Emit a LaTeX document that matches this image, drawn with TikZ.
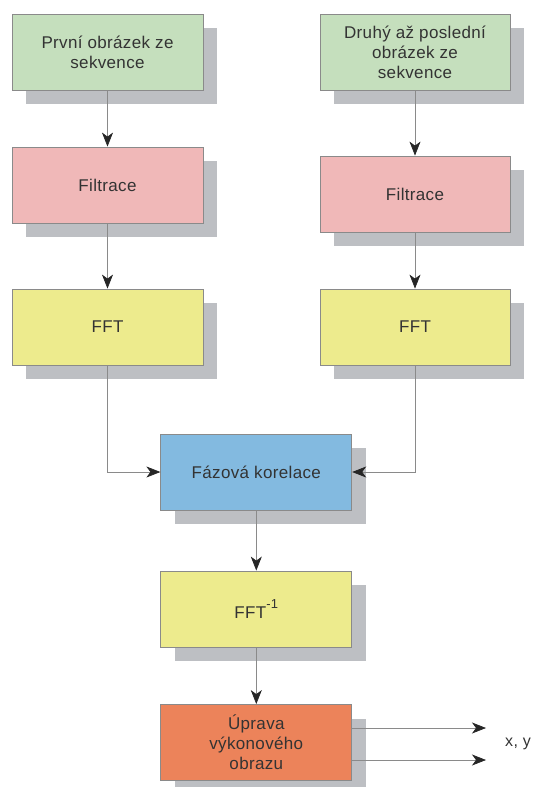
\documentclass[tikz,border=0pt]{standalone}
\usepackage{fontspec}
\setmainfont[LetterSpace=2]{Liberation Sans}
\usetikzlibrary{positioning,shadows,arrows.meta}

\definecolor{greenbox}{HTML}{C5DFBD}
\definecolor{pinkbox}{HTML}{F0B8B8}
\definecolor{yellowbox}{HTML}{EDEB8D}
\definecolor{bluebox}{HTML}{83BAE0}
\definecolor{orangebox}{HTML}{EC835A}
\definecolor{shadowgray}{HTML}{BDBFC3}
\definecolor{edgegray}{HTML}{8A8A8A}
\definecolor{textgray}{HTML}{333333}

\tikzset{
    block/.style={rectangle, draw=edgegray, line width=0.8pt, minimum width=191pt, minimum height=76pt,
        inner sep=2pt, align=center, text=textgray, font=\fontsize{17}{20}\selectfont,
        general shadow={shadow xshift=14pt, shadow yshift=-14pt, fill=shadowgray, draw=none}},
    arr/.style={draw=edgegray, line width=0.7pt, -{Stealth[length=14pt, width=11pt, inset=4pt, color=black!85, fill=black!85]}}
}

\begin{document}
\begin{tikzpicture}[x=1pt, y=-1pt]
\useasboundingbox (0,0) rectangle (533,787);

% ===== Left column =====
\node[block, fill=greenbox]  (prvni) at (107.5,52) {První obrázek ze\\sekvence};
\node[block, fill=pinkbox]   (filtA) at (107.5,185) {Filtrace};
\node[block, fill=yellowbox] (fftA)  at (107.5,327) {FFT};

% ===== Right column =====
\node[block, fill=greenbox, minimum width=190pt]  (druhy) at (415,52) {Druhý až poslední\\obrázek ze\\sekvence};
\node[block, fill=pinkbox, minimum width=190pt]   (filtB) at (415,194) {Filtrace};
\node[block, fill=yellowbox, minimum width=190pt] (fftB)  at (415,327) {FFT};

% ===== Middle =====
\node[block, fill=bluebox]   (korel) at (256.3,472) {Fázová korelace};
\node[block, fill=yellowbox] (ifft)  at (256.3,609) {FFT\raisebox{0.55em}{\fontsize{13}{13}\selectfont -1}};
\node[block, fill=orangebox] (uprava) at (256.3,742.5) {Úprava\\výkonového\\obrazu};

\coordinate (outA) at (486,728);
\coordinate (outB) at (486,760);
\node[text=textgray, font=\fontsize{16}{19}\selectfont] (xy) at (518,744) {x, y};

\draw[arr] (prvni) -- (filtA);
\draw[arr] (filtA) -- (fftA);
\draw[arr] (druhy) -- (filtB);
\draw[arr] (filtB) -- (fftB);
\draw[arr] (fftA.south) |- (korel.west);
\draw[arr] (fftB.south) |- (korel.east);
\draw[arr] (korel) -- (ifft);
\draw[arr] (ifft) -- (uprava);
\draw[arr] (uprava.east |- outA) -- (outA);
\draw[arr] (uprava.east |- outB) -- (outB);

\end{tikzpicture}
\end{document}
